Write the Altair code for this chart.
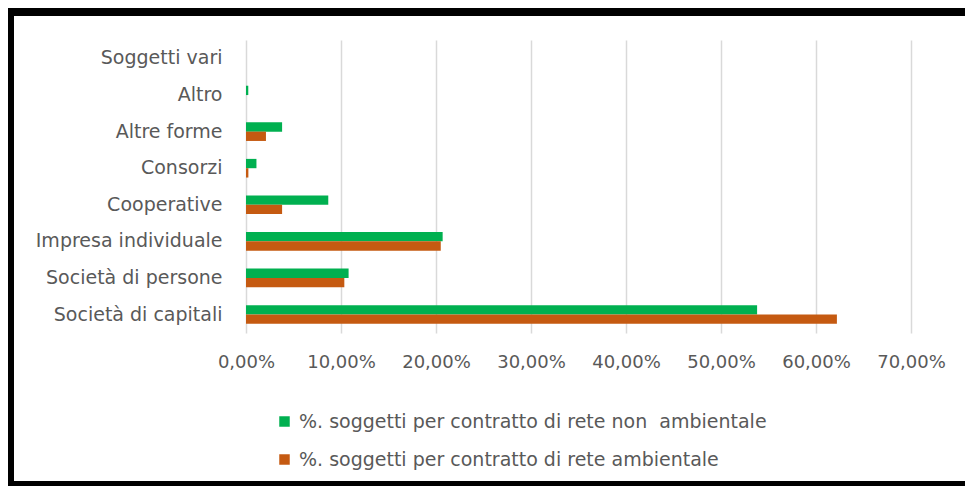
import altair as alt
import pandas as pd

categories = ["Soggetti vari", "Altro", "Altre forme", "Consorzi", "Cooperative",
              "Impresa individuale", "Società di persone", "Società di capitali"]
non_ambientale = [0.0, 0.0024, 0.038, 0.011, 0.0866, 0.207, 0.108, 0.538]
ambientale = [0.0, 0.0, 0.021, 0.0025, 0.038, 0.205, 0.1035, 0.622]
series_names = ["%. soggetti per contratto di rete non\u00a0 ambientale",
                "%. soggetti per contratto di rete ambientale"]
colors = ["#00B050", "#C55A11"]
x_ticks = [0, 0.1, 0.2, 0.3, 0.4, 0.5, 0.6, 0.7]

rows = []
for c, a, b in zip(categories, non_ambientale, ambientale):
    rows.append({"cat": c, "serie": series_names[0], "val": a})
    rows.append({"cat": c, "serie": series_names[1], "val": b})
df = pd.DataFrame(rows)

FONT = "DejaVu Sans"
TXT = "#595959"

bars = alt.Chart(df).mark_bar().encode(
    y=alt.Y("cat:N", sort=categories, title=None,
            scale=alt.Scale(paddingInner=0.49, paddingOuter=0.25),
            axis=alt.Axis(domain=False, ticks=False, grid=False, labelPadding=24,
                          labelLimit=300,
                          labelFontSize=19, labelColor=TXT, labelFont=FONT)),
    yOffset=alt.YOffset("serie:N", sort=series_names),
    x=alt.X("val:Q", title=None,
            scale=alt.Scale(domain=[0, 0.7], nice=False),
            axis=alt.Axis(values=x_ticks, domain=False, ticks=False, grid=True,
                          gridColor="#d9d9d9", gridWidth=1.5,
                          labelExpr="replace(format(datum.value, '.2%'), '.', ',')",
                          labelFlush=False, labelOverlap=False,
                          labelPadding=20, labelFontSize=18, labelColor=TXT,
                          labelFont=FONT)),
    color=alt.Color("serie:N", sort=series_names,
                    scale=alt.Scale(domain=series_names, range=colors),
                    legend=alt.Legend(title=None, orient="none", legendX=29, legendY=372,
                                      direction="vertical", symbolType="square",
                                      symbolSize=110, symbolStrokeWidth=0,
                                      labelFontSize=19, labelColor=TXT, labelFont=FONT,
                                      labelOffset=5,
                                      rowPadding=18, labelLimit=700, symbolOffset=0)),
)

frame_left = alt.Chart(df).mark_rect(color="black").encode(
    x=alt.value(-238), x2=alt.value(-232), y=alt.value(-32), y2=alt.value(446))
frame_top = alt.Chart(df).mark_rect(color="black").encode(
    x=alt.value(-238), x2=alt.value(730), y=alt.value(-32), y2=alt.value(-24))
frame_bottom = alt.Chart(df).mark_rect(color="black").encode(
    x=alt.value(-238), x2=alt.value(730), y=alt.value(441), y2=alt.value(446))

chart = alt.layer(bars, frame_left, frame_top, frame_bottom).properties(
    width=665, height=293,
    autosize=alt.AutoSizeParams(type="none"),
    padding={"left": 238, "top": 32, "right": 54, "bottom": 153},
).configure_view(stroke=None)

chart.save("out.html", embed_options={"renderer": "svg", "actions": False})
